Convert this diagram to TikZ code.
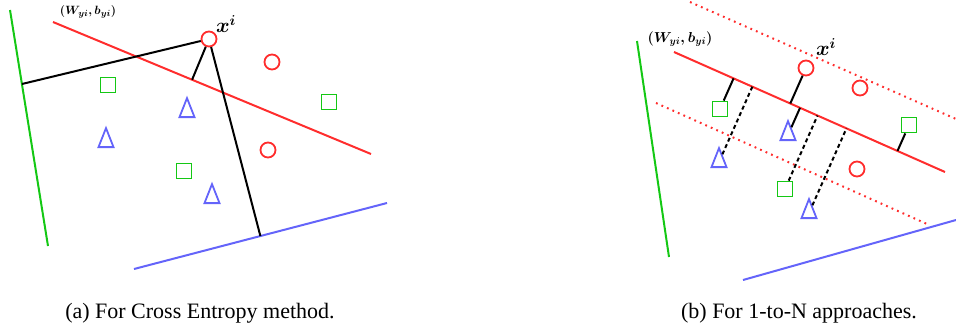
\documentclass[tikz,border=0pt]{standalone}
\usepackage{fontspec}
\setmainfont{Liberation Serif}
\usetikzlibrary{calc,shapes.geometric}
\definecolor{cred}{RGB}{255,45,45}
\definecolor{cgreen}{RGB}{20,200,20}
\definecolor{cblue}{RGB}{100,100,250}
\tikzset{
  sepline/.style={line width=2pt},
  circ/.style={circle,draw=cred,line width=1.8pt,minimum size=15pt,inner sep=0pt},
  sq/.style={rectangle,draw=cgreen,line width=1.8pt,minimum size=15pt,inner sep=0pt},
  tri/.style={isosceles triangle,isosceles triangle stretches,shape border rotate=90,draw=cblue,line width=1.8pt,minimum width=15pt,minimum height=19pt,inner sep=0pt},
  conn/.style={black,line width=2pt},
  dconn/.style={black,line width=2pt,dash pattern=on 4pt off 3pt},
  dotline/.style={cred,line width=2pt,dash pattern=on 1.8pt off 4.2pt},
  lab/.style={font=\fontsize{13}{15}\selectfont\boldmath},
  xlab/.style={font=\fontsize{20}{24}\selectfont\boldmath},
  captext/.style={font=\fontsize{22}{26}\selectfont}
}
\begin{document}
\begin{tikzpicture}[x=1pt,y=-1pt]
\useasboundingbox (0,0) rectangle (956,330);
% ---------------- left panel ----------------
\coordinate (g1) at (10,10);   \coordinate (g2) at (48,246);
\coordinate (r1) at (53,22);   \coordinate (r2) at (371,154);
\coordinate (b1) at (134,269); \coordinate (b2) at (387,203);
\draw[sepline,cgreen] (g1) -- (g2);
\draw[sepline,cred] (r1) -- (r2);
\draw[sepline,cblue] (b1) -- (b2);
\node[lab] (wl) at (88,12) {$(W_{yi}, b_{yi})$};
\node[circ] (xa) at (209,39) {};
\node[xlab] (xla) at (226,24) {$x^i$};
\node[circ] (ca1) at (272,62) {};
\node[circ] (ca2) at (268,150) {};
\node[sq] (sa1) at (108,85) {};
\node[sq] (sa2) at (329,102) {};
\node[sq] (sa3) at (184,171) {};
\node[tri] (ta1) at (187,112) {};
\node[tri] (ta2) at (106,142) {};
\node[tri] (ta3) at (212,198) {};
\coordinate (fg) at ($(g1)!0.3136!(g2)$);
\coordinate (fr) at ($(r1)!(xa.center)!(r2)$);
\coordinate (fb) at ($(b1)!(xa.center)!(b2)$);
\draw[conn] (xa) -- (fg);
\draw[conn] (xa) -- (fr);
\draw[conn] (xa) -- (fb);
% ---------------- right panel ----------------
\coordinate (G1) at (637,41);  \coordinate (G2) at (669,257);
\coordinate (R1) at (674,52);  \coordinate (R2) at (945,172);
\coordinate (U1) at (690,2);   \coordinate (U2) at (956,119);
\coordinate (L1) at (656,103); \coordinate (L2) at (927,224);
\coordinate (B1) at (743,280); \coordinate (B2) at (956,220);
\draw[sepline,cgreen] (G1) -- (G2);
\draw[sepline,cred] (R1) -- (R2);
\draw[dotline] (U1) -- (U2);
\draw[dotline] (L1) -- (L2);
\draw[sepline,cblue] (B1) -- (B2);
\node[lab,font=\fontsize{14.5}{17}\selectfont\boldmath] (wr) at (680,39) {$(W_{yi}, b_{yi})$};
\node[circ] (xb) at (806,68) {};
\node[xlab] (xlb) at (826,47) {$x^i$};
\node[circ] (cb1) at (860,88) {};
\node[circ] (cb2) at (857,169) {};
\node[sq] (sb1) at (720,109) {};
\node[sq] (sb2) at (909,125) {};
\node[sq] (sb3) at (785,189) {};
\node[tri] (tb1) at (719,162) {};
\node[tri] (tb2) at (788,135) {};
\node[tri] (tb3) at (809,213) {};
\draw[conn] (sb1) -- ($(R1)!(sb1.center)!(R2)$);
\draw[conn] (xb) -- ($(R1)!(xb.center)!(R2)$);
\draw[conn] (tb2) -- ($(R1)!(tb2.center)!(R2)$);
\draw[conn] (sb2) -- ($(R1)!(sb2.center)!(R2)$);
\draw[dconn] (tb1) -- ($(R1)!(tb1.center)!(R2)$);
\draw[dconn] (sb3) -- ($(R1)!(sb3.center)!(R2)$);
\draw[dconn] (tb3) -- ($(R1)!(tb3.center)!(R2)$);
% ---------------- captions ----------------
\node[captext,anchor=base] (capa) at (200,318) {(a) For Cross Entropy method.};
\node[captext,anchor=base] (capb) at (799,318) {(b) For 1-to-N approaches.};
\end{tikzpicture}
\end{document}
